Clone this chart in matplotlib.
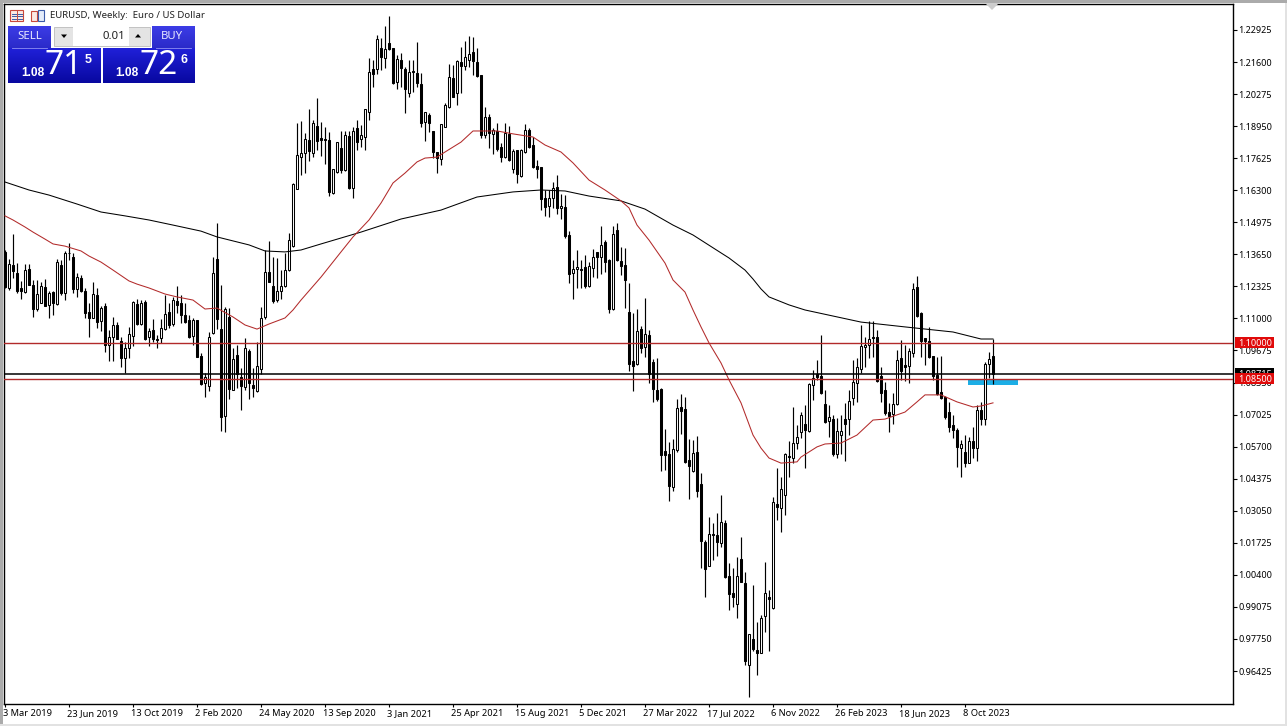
import numpy as np
import matplotlib
matplotlib.use('Agg')
import matplotlib.pyplot as plt
from matplotlib.patches import Rectangle, Polygon
from matplotlib.transforms import ScaledTranslation

plt.rcParams['font.family'] = ['Noto Sans', 'DejaVu Sans']

# weekly candles, one value per bar
opens = [1.1376,1.1227,1.1321,1.1287,1.1225,1.1211,1.1303,1.1238,1.1139,1.1165,
    1.1229,1.1156,1.1209,1.1158,1.1321,1.1207,1.1372,1.1353,1.1220,1.1266,
    1.1215,1.1125,1.1103,1.1197,1.1089,1.1151,1.0989,1.1023,1.1072,1.1008,
    1.0938,1.0976,1.1029,1.1160,1.1077,1.1168,1.1022,1.1051,1.1015,1.1021,
    1.1056,1.1125,1.1077,1.1174,1.1162,1.1114,1.1094,1.1029,1.1094,1.0945,
    1.0832,1.0822,1.1038,1.1344,1.1055,1.0698,1.1105,1.0804,1.0949,1.0859,
    1.0818,1.0967,1.0825,1.0800,1.0890,1.1105,1.1291,1.1234,1.1176,1.1215,
    1.1236,1.1300,1.1400,1.1637,1.1769,1.1785,1.1838,1.1785,1.1896,1.1845,
    1.1841,1.1838,1.1620,1.1707,1.1803,1.1714,1.1854,1.1641,1.1886,1.1841,
    1.1852,1.1955,1.2130,1.2130,1.2220,1.2178,1.2237,1.2220,1.2079,1.2169,
    1.2131,1.2033,1.2123,1.2116,1.2069,1.1914,1.1941,1.1875,1.1790,1.1758,
    1.1890,1.1973,1.2094,1.2031,1.2162,1.2144,1.2169,1.2200,1.2159,1.2105,
    1.1859,1.1932,1.1861,1.1876,1.1807,1.1766,1.1863,1.1717,1.1796,1.1689,
    1.1790,1.1879,1.1817,1.1730,1.1725,1.1597,1.1565,1.1597,1.1642,1.1555,
    1.1559,1.1445,1.1287,1.1303,1.1304,1.1311,1.1234,1.1310,1.1376,1.1355,
    1.1416,1.1342,1.1139,1.1466,1.1336,1.1321,1.1127,1.0924,1.0912,1.1055,
    1.0983,1.1032,1.0919,1.0804,1.0808,1.0551,1.0540,1.0405,1.0556,1.0733,
    1.0724,1.0515,1.0471,1.0547,1.0414,1.0177,1.0078,1.0209,1.0205,1.0170,
    1.0256,1.0035,0.9964,0.9918,1.0104,1.0005,0.9667,0.9774,0.9728,0.9718,
    0.9871,0.9947,0.9904,1.0333,1.0318,1.0369,1.0530,1.0525,1.0584,1.0632,
    1.0664,1.0636,1.0826,1.0869,1.0862,1.0745,1.0677,1.0684,1.0540,1.0620,
    1.0684,1.0684,1.0771,1.0832,1.0892,1.0983,1.0990,1.1025,1.1023,1.0862,
    1.0804,1.0712,1.0706,1.0745,1.0937,1.0908,1.0905,1.0956,1.1229,1.1121,
    1.1018,1.1008,1.0945,1.0866,1.0795,1.0777,1.0712,1.0660,1.0639,1.0563,
    1.0549,1.0504,1.0593,1.0563,1.0722,1.0683,1.0910,1.0945]
highs = [1.1383,1.1344,1.1449,1.1328,1.1255,1.1325,1.1325,1.1259,1.1259,1.1252,
    1.1262,1.1213,1.1215,1.1346,1.1342,1.1380,1.1411,1.1372,1.1287,1.1280,
    1.1225,1.1162,1.1251,1.1227,1.1151,1.1162,1.1052,1.1107,1.1087,1.1025,
    1.1004,1.1063,1.1172,1.1179,1.1176,1.1176,1.1059,1.1096,1.1032,1.1096,
    1.1197,1.1162,1.1190,1.1236,1.1197,1.1162,1.1114,1.1100,1.1094,1.0956,
    1.0876,1.1045,1.1353,1.1493,1.1238,1.1146,1.1142,1.0976,1.0990,1.0894,
    1.1018,1.0972,1.0894,1.1004,1.1146,1.1383,1.1422,1.1353,1.1349,1.1300,
    1.1372,1.1452,1.1660,1.1909,1.1916,1.1865,1.1966,1.1920,1.2010,1.1914,
    1.1893,1.1872,1.1716,1.1828,1.1876,1.1876,1.1876,1.1893,1.1920,1.1900,
    1.1967,1.2175,1.2169,1.2272,1.2258,1.2309,1.2350,1.2220,1.2189,1.2199,
    1.2138,1.2169,1.2169,1.2242,1.2113,1.1952,1.1951,1.1875,1.1790,1.1902,
    1.1992,1.2151,1.2148,1.2169,1.2224,1.2247,1.2268,1.2262,1.2217,1.2105,
    1.1973,1.1945,1.1886,1.1907,1.1824,1.1907,1.1896,1.1799,1.1796,1.1799,
    1.1904,1.1886,1.1852,1.1755,1.1725,1.1631,1.1631,1.1666,1.1693,1.1614,
    1.1610,1.1463,1.1342,1.1383,1.1342,1.1362,1.1335,1.1386,1.1376,1.1482,
    1.1424,1.1344,1.1482,1.1493,1.1394,1.1390,1.1245,1.1121,1.1138,1.1070,
    1.1185,1.1052,1.0931,1.0935,1.0811,1.0642,1.0591,1.0600,1.0766,1.0788,
    1.0774,1.0600,1.0598,1.0614,1.0460,1.0184,1.0278,1.0256,1.0294,1.0370,
    1.0267,1.0088,1.0067,1.0115,1.0195,1.0053,0.9796,0.9998,0.9847,0.9874,
    1.0095,0.9977,1.0363,1.0483,1.0446,1.0542,1.0593,1.0733,1.0660,1.0712,
    1.0742,1.0832,1.0887,1.0928,1.1032,1.0804,1.0742,1.0701,1.0687,1.0701,
    1.0749,1.0804,1.0928,1.0935,1.1073,1.1025,1.1091,1.1091,1.1052,1.0901,
    1.0836,1.0749,1.0790,1.0970,1.1011,1.0990,1.0977,1.1245,1.1275,1.1128,
    1.1018,1.1066,1.0945,1.0939,1.0945,1.0779,1.0756,1.0701,1.0646,1.0598,
    1.0618,1.0611,1.0653,1.0742,1.0756,1.0921,1.0963,1.1014]
lows = [1.1225,1.1218,1.1266,1.1207,1.1180,1.1207,1.1238,1.1107,1.1132,1.1162,
    1.1151,1.1103,1.1114,1.1156,1.1197,1.1176,1.1342,1.1207,1.1190,1.1211,
    1.1100,1.1025,1.1100,1.1059,1.1048,1.0963,1.0925,1.0925,1.1014,1.0901,
    1.0876,1.0935,1.0986,1.1073,1.1073,1.1011,1.0986,1.1004,1.0976,1.1000,
    1.1052,1.1062,1.1069,1.1124,1.1080,1.1083,1.1018,1.0990,1.0939,1.0825,
    1.0777,1.0801,1.1036,1.1055,1.0636,1.0632,1.0766,1.0804,1.0811,1.0722,
    1.0804,1.0766,1.0774,1.0797,1.0870,1.1098,1.1252,1.1165,1.1169,1.1180,
    1.1231,1.1298,1.1395,1.1637,1.1693,1.1700,1.1752,1.1769,1.1796,1.1772,
    1.1739,1.1608,1.1615,1.1700,1.1700,1.1711,1.1635,1.1599,1.1796,1.1807,
    1.1796,1.1921,1.2058,1.2111,1.2127,1.2134,1.2210,1.2069,1.2049,1.2055,
    1.1951,1.2014,1.2038,1.2055,1.1890,1.1835,1.1872,1.1762,1.1703,1.1734,
    1.1890,1.1971,1.2014,1.1982,1.2031,1.2127,1.2141,1.2107,1.2100,1.1845,
    1.1845,1.1803,1.1780,1.1794,1.1748,1.1762,1.1752,1.1700,1.1661,1.1686,
    1.1785,1.1803,1.1722,1.1679,1.1548,1.1524,1.1521,1.1555,1.1530,1.1511,
    1.1431,1.1248,1.1182,1.1224,1.1224,1.1227,1.1231,1.1270,1.1266,1.1284,
    1.1293,1.1121,1.1135,1.1339,1.1280,1.1142,1.0884,1.0801,1.0908,1.0959,
    1.0939,1.0835,1.0756,1.0760,1.0471,1.0474,1.0347,1.0388,1.0549,1.0622,
    1.0501,1.0355,1.0467,1.0363,1.0070,0.9950,1.0077,1.0102,1.0119,1.0157,
    1.0028,0.9895,0.9909,0.9863,1.0012,0.9667,0.9534,0.9727,0.9626,0.9716,
    0.9805,0.9725,0.9900,1.0267,1.0219,1.0287,1.0443,1.0504,1.0560,1.0604,
    1.0480,1.0632,1.0763,1.0846,1.0788,1.0666,1.0611,1.0533,1.0522,1.0538,
    1.0512,1.0618,1.0742,1.0756,1.0873,1.0901,1.0935,1.0939,1.0839,1.0756,
    1.0701,1.0632,1.0664,1.0742,1.0846,1.0843,1.0832,1.0939,1.1107,1.0942,
    1.0908,1.0935,1.0846,1.0784,1.0766,1.0684,1.0632,1.0604,1.0487,1.0446,
    1.0487,1.0501,1.0522,1.0512,1.0660,1.0660,1.0852,1.0828]
closes = [1.1231,1.1324,1.1298,1.1213,1.1213,1.1300,1.1238,1.1140,1.1201,1.1234,
    1.1151,1.1204,1.1162,1.1332,1.1204,1.1372,1.1369,1.1220,1.1270,1.1213,
    1.1124,1.1103,1.1201,1.1087,1.1142,1.0989,1.1022,1.1072,1.1016,1.0938,
    1.0976,1.1034,1.1168,1.1077,1.1162,1.1016,1.1049,1.1014,1.1012,1.1059,
    1.1117,1.1073,1.1176,1.1154,1.1114,1.1087,1.1022,1.1094,1.0942,1.0828,
    1.0859,1.1022,1.1287,1.1099,1.0694,1.1138,1.0807,1.0931,1.0870,1.0822,
    1.0976,1.0834,1.0814,1.0903,1.1100,1.1291,1.1252,1.1172,1.1215,1.1236,
    1.1300,1.1424,1.1656,1.1774,1.1783,1.1841,1.1792,1.1907,1.1835,1.1839,
    1.1836,1.1624,1.1716,1.1828,1.1714,1.1857,1.1641,1.1875,1.1831,1.1857,
    1.1965,1.2118,1.2109,1.2254,1.2182,1.2213,1.2215,1.2072,1.2171,1.2137,
    1.2047,1.2119,1.2117,1.2072,1.1907,1.1952,1.1907,1.1790,1.1765,1.1902,
    1.1982,1.2100,1.2014,1.2164,1.2145,1.2179,1.2193,1.2166,1.2104,1.1859,
    1.1934,1.1865,1.1879,1.1801,1.1769,1.1868,1.1755,1.1794,1.1697,1.1796,
    1.1879,1.1810,1.1725,1.1719,1.1592,1.1559,1.1597,1.1638,1.1555,1.1565,
    1.1441,1.1282,1.1303,1.1313,1.1299,1.1235,1.1317,1.1354,1.1355,1.1402,
    1.1335,1.1139,1.1448,1.1342,1.1318,1.1259,1.0912,1.0905,1.1047,1.0979,
    1.1034,1.0870,1.0807,1.0768,1.0537,1.0537,1.0409,1.0559,1.0729,1.0717,
    1.0508,1.0490,1.0542,1.0388,1.0181,1.0066,1.0209,1.0206,1.0176,1.0257,
    1.0033,0.9962,0.9950,1.0035,1.0012,0.9685,0.9796,0.9732,0.9718,0.9860,
    0.9964,0.9942,1.0343,1.0322,1.0394,1.0540,1.0527,1.0584,1.0609,1.0701,
    1.0639,1.0829,1.0852,1.0859,1.0790,1.0671,1.0691,1.0538,1.0633,1.0636,
    1.0664,1.0759,1.0836,1.0898,1.0986,1.0990,1.1014,1.1021,1.0843,1.0793,
    1.0711,1.0698,1.0745,1.0928,1.0883,1.0901,1.0967,1.1220,1.1112,1.1008,
    1.1007,1.0942,1.0862,1.0786,1.0770,1.0694,1.0650,1.0639,1.0570,1.0580,
    1.0501,1.0592,1.0563,1.0722,1.0684,1.0912,1.0932,1.08715]

# moving averages, read at these bars
ma_slow_bars = [0,6,11,18,24,30,36,42,49,53,61,65,70,74,79,89,99,109,118,127,134,140,146,154,160,167,172,179,181,185,187,189,191,196,200,214,225,237,244,247]
ma_slow = [1.1664,1.1631,1.1610,1.1573,1.1540,1.1524,1.1507,1.1486,1.1461,1.1437,1.1404,1.1379,1.1375,1.1383,1.1408,1.1457,
    1.1511,1.1548,1.1602,1.1623,1.1631,1.1627,1.1606,1.1586,1.1552,1.1486,1.1445,1.1371,1.1350,1.1300,1.1263,1.1222,1.1189,
    1.1156,1.1135,1.1085,1.1065,1.1044,1.1015,1.1015]
ma_fast_bars = [0,2,5,7,10,12,15,19,21,24,27,31,33,36,40,43,47,50,53,57,60,63,66,70,72,74,79,84,87,91,94,97,100,103,105,108,
    110,114,117,123,127,132,135,139,142,146,150,154,156,158,161,165,167,170,172,174,176,179,181,184,187,189,191,194,198,199,
    203,205,209,213,217,220,225,228,230,234,238,242,244,247]
ma_fast = [1.1524,1.1507,1.1478,1.1457,1.1428,1.1408,1.1399,1.1379,1.1358,1.1333,1.1300,1.1255,1.1242,1.1226,1.1201,1.1189,
    1.1176,1.1139,1.1143,1.1106,1.1073,1.1056,1.1077,1.1102,1.1135,1.1176,1.1271,1.1375,1.1437,1.1507,1.1577,1.1660,1.1701,
    1.1747,1.1763,1.1767,1.1788,1.1829,1.1875,1.1875,1.1863,1.1850,1.1817,1.1788,1.1743,1.1672,1.1631,1.1586,1.1557,1.1486,
    1.1424,1.1329,1.1259,1.1209,1.1135,1.1065,1.0999,1.0916,1.0846,1.0751,1.0618,1.0564,1.0523,1.0502,1.0507,1.0527,1.0569,
    1.0581,1.0585,1.0618,1.0680,1.0684,1.0713,1.0755,1.0784,1.0784,1.0755,1.0734,1.0738,1.0751]

price_ticks = [1.22925,1.21600,1.20275,1.18950,1.17625,1.16300,1.14975,1.13650,1.12325,1.11000,1.09675,1.08350,
    1.07025,1.05700,1.04375,1.03050,1.01725,1.00400,0.99075,0.97750,0.96425]
date_labels = ['3 Mar 2019','23 Jun 2019','13 Oct 2019','2 Feb 2020','24 May 2020','13 Sep 2020','3 Jan 2021','25 Apr 2021',
    '15 Aug 2021','5 Dec 2021','27 Mar 2022','17 Jul 2022','6 Nov 2022','26 Feb 2023','18 Jun 2023','8 Oct 2023']
date_bars = [16 * k for k in range(len(date_labels))]

level_prices = [1.10000, 1.08500]
last_price = 1.08715

W, H = 1287, 726
fig = plt.figure(figsize=(W / 100, H / 100), dpi=100, facecolor='white')

# chart frame runs from x=4 to 1233 and y=4 to 703.5 in pixels
ax = fig.add_axes([4 / W, 1 - 703.5 / H, (1233 - 4) / W, (703.5 - 4) / H])
ax.set_xlim(-0.25, 307)
ax.set_ylim(0.95082, 1.23999)
for s in ax.spines.values():
    s.set_linewidth(1.0)

x = np.arange(len(opens))
o = np.array(opens)
c = np.array(closes)
up = c >= o

# blue zone goes under the candles
ax.add_patch(Rectangle((240.75, 1.0825), 12.5, 0.0024, facecolor='#1CAEE6', edgecolor='none', zorder=1))

ax.vlines(x, lows, highs, color='black', linewidth=0.85, zorder=2)
body_low = np.minimum(o, c)
body_h = np.maximum(np.abs(c - o), 0.0002)
ax.bar(x[up], body_h[up], bottom=body_low[up], width=0.5, facecolor='white', edgecolor='black', linewidth=0.75, zorder=3)
ax.bar(x[~up], body_h[~up], bottom=body_low[~up], width=0.5, facecolor='black', edgecolor='black', linewidth=0.75, zorder=3)

ax.plot(ma_slow_bars, ma_slow, color='black', linewidth=0.75, zorder=4)
ax.plot(ma_fast_bars, ma_fast, color='#B22A2A', linewidth=0.75, zorder=4)

for p in level_prices:
    ax.axhline(p, color='#B22A2A', linewidth=1.0, zorder=5)
ax.axhline(last_price, color='black', linewidth=1.1, zorder=5)

ax.yaxis.tick_right()
ax.set_yticks(price_ticks)
ax.set_yticklabels(['%.5f' % p for p in price_ticks], fontsize=6.5)
ax.tick_params(axis='y', length=3.2, width=0.8, pad=0.8)
ax.set_xticks(date_bars)
ax.set_xticklabels(date_labels, fontsize=6.7, ha='left', va='baseline')
ax.tick_params(axis='x', length=2.2, width=0.8, pad=7.0)
shift = ScaledTranslation(-2 / 100, 0, fig.dpi_scale_trans)
for t in ax.get_xticklabels():
    t.set_transform(t.get_transform() + shift)

# price tags on the right axis
tr = ax.get_yaxis_transform()
tags = [(last_price, 'black', 6), (level_prices[0], '#E00A0A', 7), (level_prices[1], '#E00A0A', 7)]
for p, col, z in tags:
    ax.add_patch(Rectangle((1.0016, p - 0.00228), 0.0317, 0.00455, transform=tr, facecolor=col, edgecolor='none', zorder=z, clip_on=False))
    ax.text(1.0041, p, '%.5f' % p, transform=tr, color='white', fontsize=6.5, va='center_baseline', ha='left', zorder=z, clip_on=False)

# overlay in pixel coordinates for the window border and trade panel
ov = fig.add_axes([0, 0, 1, 1], facecolor='none')
ov.set_xlim(0, W)
ov.set_ylim(H, 0)
ov.axis('off')

for r, col in [((0, 0, W, 3), '#ABABAB'), ((0, 0, 3, H), '#ABABAB'), ((0, 723.5, W, 2.5), '#E2E2E2'), ((1285, 3, 2, H), '#E2E2E2')]:
    ov.add_patch(Rectangle((r[0], r[1]), r[2], r[3], facecolor=col, edgecolor='none'))
ov.add_patch(Polygon([(986, 4), (998, 4), (992, 10)], facecolor='#CCCCCC', edgecolor='none'))

ov.text(50.5, 15.5, 'EURUSD, Weekly:  Euro / US Dollar', fontsize=6.95, color='#222222', va='center')

# small toolbar icons
ov.add_patch(Rectangle((10, 10), 13, 11, facecolor='#FBE9E4', edgecolor='#C8483C', linewidth=0.8))
ov.plot([16.5, 16.5], [10, 21], color='#C8483C', linewidth=0.7)
for yy in [13.5, 16, 18.5]:
    ov.plot([11.5, 15.5], [yy, yy], color='#3B5BA8', linewidth=0.7)
    ov.plot([17.5, 21.5], [yy, yy], color='#3B5BA8', linewidth=0.7)
ov.add_patch(Rectangle((31, 11), 6, 10, facecolor='#FBE9E4', edgecolor='#C8483C', linewidth=0.8))
ov.add_patch(Rectangle((38, 10), 6, 11, facecolor='#E4ECFA', edgecolor='#3B5BA8', linewidth=0.8))


def gradient(x0, y0, x1, y1, top, bottom):
    t = np.array(matplotlib.colors.to_rgb(top))
    b = np.array(matplotlib.colors.to_rgb(bottom))
    g = np.linspace(0, 1, 32)[:, None, None]
    img = t[None, None, :] * (1 - g) + b[None, None, :] * g
    ov.imshow(img, extent=(x0, x1, y1, y0), aspect='auto', zorder=2, interpolation='bilinear')


gradient(8, 26, 51, 49, '#3C3CE6', '#2A2AC8')
gradient(152, 26, 195, 49, '#3C3CE6', '#2A2AC8')
gradient(8, 48, 101, 83, '#2020D8', '#0808A0')
gradient(103, 48, 195, 83, '#2020D8', '#0808A0')
ov.set_xlim(0, W)
ov.set_ylim(H, 0)

ov.plot([12, 47], [47.5, 47.5], color='#9090F0', linewidth=0.6, zorder=3)
ov.plot([156, 191], [47.5, 47.5], color='#9090F0', linewidth=0.6, zorder=3)
ov.add_patch(Rectangle((54, 27), 96, 19, facecolor='#E4E4E4', edgecolor='#BBBBBB', linewidth=0.6, zorder=3))
ov.add_patch(Rectangle((73, 27), 56, 19, facecolor='white', edgecolor='none', zorder=4))
ov.add_patch(Polygon([(61, 34.5), (67, 34.5), (64, 38)], facecolor='black', edgecolor='none', zorder=4))
ov.add_patch(Polygon([(135, 37.5), (141, 37.5), (138, 34)], facecolor='black', edgecolor='none', zorder=4))

ov.text(29.5, 36.5, 'SELL', color='#E8E8FF', fontsize=8.2, ha='center', va='center', zorder=5)
ov.text(172, 36.5, 'BUY', color='#E8E8FF', fontsize=8.2, ha='center', va='center', zorder=5)
ov.text(125, 36.5, '0.01', color='#222222', fontsize=8.2, ha='right', va='center', zorder=5)

bold = 'Liberation Sans'
ov.text(33, 72.5, '1.08', color='white', fontsize=8.6, fontweight='bold', family=bold, ha='center', va='center', zorder=5)
ov.text(64, 65.5, '71', color='white', fontsize=24, ha='center', va='center', zorder=5)
ov.text(88, 60, '5', color='white', fontsize=9, fontweight='bold', family=bold, ha='center', va='center', zorder=5)
ov.text(127, 72.5, '1.08', color='white', fontsize=8.6, fontweight='bold', family=bold, ha='center', va='center', zorder=5)
ov.text(159, 65.5, '72', color='white', fontsize=24, ha='center', va='center', zorder=5)
ov.text(184, 60, '6', color='white', fontsize=9, fontweight='bold', family=bold, ha='center', va='center', zorder=5)

fig.savefig('out.png', dpi=100)
